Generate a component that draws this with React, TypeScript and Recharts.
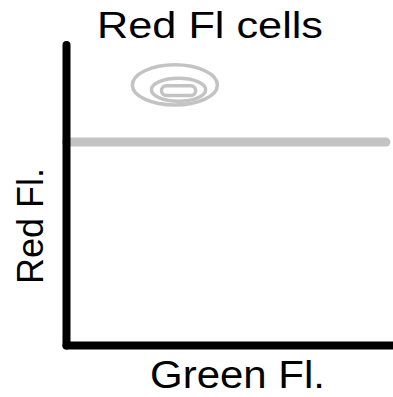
import React from 'react';
import { ComposedChart, Line, XAxis, YAxis, ReferenceArea, Customized } from 'recharts';

// Gated threshold line (Red Fl. level)
const thresholdX = [0, 95.5];
const thresholdY = [67.7, 67.7];

// Contour levels of the red-fluorescent population
const contourNames = ['outer', 'middle', 'inner'];
const contourX1 = [19.7, 25.4, 28.4];
const contourX2 = [45.1, 41.6, 38.6];
const contourY1 = [80.0, 81.3, 83.2];
const contourY2 = [93.4, 88.9, 86.4];
const contourKind = ['ellipse', 'ellipse', 'rect'];

const titleText = 'Red Fl cells';
const xLabelText = 'Green Fl.';
const yLabelText = 'Red Fl.';

const lineData = thresholdX.map((x, i) => ({ x, y: thresholdY[i] }));

const FONT = '"Liberation Sans", Arial, sans-serif';
const GRAY = '#c3c3c3';

const Texts = () => (
  <g fontFamily={FONT} fill="#000">
    <text x={97} y={37.5} fontSize={36} textLength={226} lengthAdjust="spacingAndGlyphs">{titleText}</text>
    <text x={150} y={388} fontSize={38} textLength={175} lengthAdjust="spacingAndGlyphs">{xLabelText}</text>
    <text x={43} y={226} fontSize={36} textAnchor="middle" transform="rotate(-90 43 226)">{yLabelText}</text>
  </g>
);

export default function App() {
  return (
    <div style={{ position: 'absolute', left: 0, top: 0, width: 393, height: 397, overflow: 'hidden', background: '#fff' }}>
      <ComposedChart width={401} height={397} data={lineData} margin={{ top: 45, right: 0, bottom: 50.5, left: 65.5 }}>
        <XAxis
          type="number"
          dataKey="x"
          domain={[0, 100]}
          height={1}
          tick={false}
          tickLine={false}
          axisLine={{ stroke: '#000', strokeWidth: 8, strokeLinecap: 'round' }}
        />
        <YAxis
          type="number"
          domain={[0, 100]}
          width={1}
          tick={false}
          tickLine={false}
          axisLine={{ stroke: '#000', strokeWidth: 8, strokeLinecap: 'round' }}
        />
        {contourNames.map((name, i) => (
          <ReferenceArea
            key={name}
            x1={contourX1[i]}
            x2={contourX2[i]}
            y1={contourY1[i]}
            y2={contourY2[i]}
            shape={(p: any) =>
              contourKind[i] === 'ellipse' ? (
                <ellipse
                  cx={p.x + p.width / 2}
                  cy={p.y + p.height / 2}
                  rx={Math.abs(p.width) / 2}
                  ry={Math.abs(p.height) / 2}
                  fill="none"
                  stroke={GRAY}
                  strokeWidth={3.5}
                />
              ) : (
                <rect
                  x={p.x}
                  y={p.y}
                  width={p.width}
                  height={p.height}
                  rx={Math.abs(p.height) / 2}
                  fill="none"
                  stroke={GRAY}
                  strokeWidth={3.5}
                />
              )
            }
          />
        ))}
        <Line
          type="linear"
          dataKey="y"
          stroke={GRAY}
          strokeWidth={9}
          strokeLinecap="round"
          dot={false}
          activeDot={false}
          isAnimationActive={false}
        />
        <Customized component={Texts} />
      </ComposedChart>
    </div>
  );
}
